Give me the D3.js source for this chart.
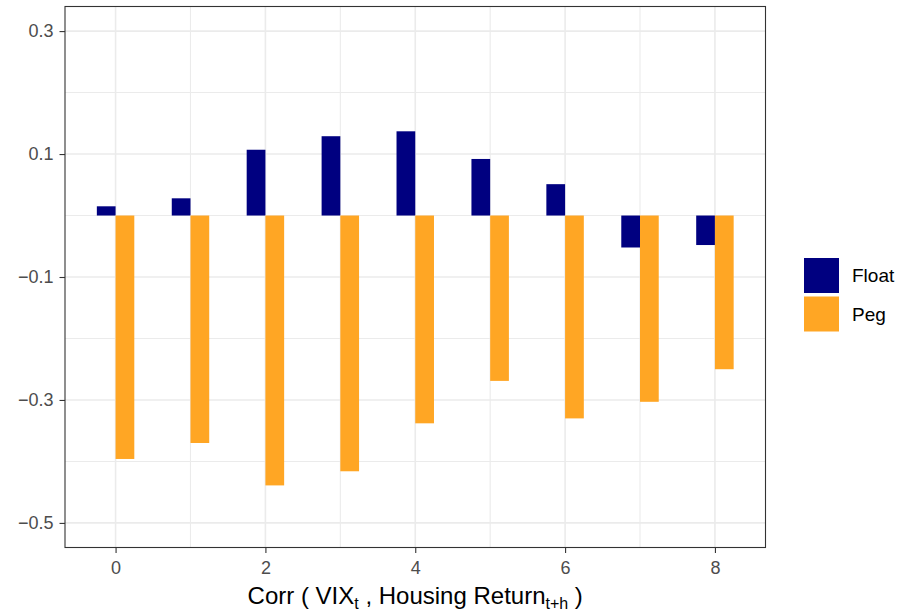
<!DOCTYPE html>
<html><head><meta charset="utf-8">
<script src="https://cdn.jsdelivr.net/npm/d3@7"></script>
<style>body{margin:0;background:#fff}</style>
</head><body>
<svg id="c" width="897" height="611"></svg>
<script>
const horizons = [0,1,2,3,4,5,6,7,8];
const floatVals = [0.015,0.028,0.107,0.129,0.137,0.092,0.051,-0.052,-0.048];
const pegVals = [-0.396,-0.370,-0.439,-0.416,-0.338,-0.269,-0.330,-0.303,-0.250];
const seriesNames = ["Float","Peg"];
const seriesColors = ["#000080","#FFA624"];
const yTicks = [0.3,0.1,-0.1,-0.3,-0.5];
const yMinor = [0.2,0,-0.2,-0.4];
const xTicks = [0,2,4,6,8];
const xMinor = [1,3,5,7];

const svg = d3.select("#c");
const L=65, R=765.5, T=6.5, B=547.5;
const x = d3.scaleLinear().domain([-0.675,8.675]).range([L,R]);
const y = d3.scaleLinear().domain([-0.54,0.34]).range([B,T]);
const font = "Liberation Sans, Arial, Helvetica, sans-serif";

const g = svg.append("g");
// grid
g.selectAll(".ym").data(yMinor).join("line").attr("x1",L).attr("x2",R)
  .attr("y1",d=>y(d)).attr("y2",d=>y(d)).attr("stroke","#ebebeb").attr("stroke-width",1.1);
g.selectAll(".xm").data(xMinor).join("line").attr("y1",T).attr("y2",B)
  .attr("x1",d=>x(d)).attr("x2",d=>x(d)).attr("stroke","#ebebeb").attr("stroke-width",1.1);
g.selectAll(".yM").data(yTicks).join("line").attr("x1",L).attr("x2",R)
  .attr("y1",d=>y(d)).attr("y2",d=>y(d)).attr("stroke","#ebebeb").attr("stroke-width",1.6);
g.selectAll(".xM").data(xTicks).join("line").attr("y1",T).attr("y2",B)
  .attr("x1",d=>x(d)).attr("x2",d=>x(d)).attr("stroke","#ebebeb").attr("stroke-width",1.6);

// bars
const bw = 0.25;
const data = [];
horizons.forEach((h,i)=>{
  data.push({h, v: floatVals[i], s:0});
  data.push({h, v: pegVals[i], s:1});
});
g.selectAll(".bar").data(data).join("rect")
  .attr("x",d=>x(d.h - bw + d.s*bw))
  .attr("width",d=>x(bw)-x(0))
  .attr("y",d=>y(Math.max(0,d.v)))
  .attr("height",d=>Math.abs(y(d.v)-y(0)))
  .attr("fill",d=>seriesColors[d.s]);

// panel border
g.append("rect").attr("x",L).attr("y",T).attr("width",R-L).attr("height",B-T)
  .attr("fill","none").attr("stroke","#333").attr("stroke-width",1.1);

// axes
const yAxis = d3.axisLeft(y).tickValues(yTicks).tickSize(5.5).tickPadding(6)
  .tickFormat(d=>d3.format(".1f")(d).replace("-","\u2212"));
const ya = svg.append("g").attr("transform",`translate(${L},0)`).call(yAxis);
const xAxis = d3.axisBottom(x).tickValues(xTicks).tickSize(5.5).tickPadding(8).tickFormat(d3.format("d"));
const xa = svg.append("g").attr("transform",`translate(0,${B})`).call(xAxis);
[ya,xa].forEach(a=>{
  a.attr("font-size",null).attr("font-family",null);
  a.select(".domain").remove();
  a.selectAll(".tick line").attr("stroke","#333").attr("stroke-width",1.1);
  a.selectAll(".tick text").attr("fill","#4d4d4d").style("font-family",font).style("font-size","18px");
});

// x title
const t = svg.append("text").attr("x",(L+R)/2).attr("y",604).attr("text-anchor","middle")
  .style("font-family",font).style("font-size","24px").attr("fill","#000");
t.append("tspan").text("Corr ( VIX");
t.append("tspan").text("t").style("font-size","16px").attr("dy",5);
t.append("tspan").text(" , Housing Return").attr("dy",-5);
t.append("tspan").text("t+h").style("font-size","16px").attr("dy",5);
t.append("tspan").text(" )").attr("dy",-5);

// legend
const lg = svg.append("g").attr("transform","translate(804,258)");
seriesNames.forEach((n,i)=>{
  lg.append("rect").attr("x",0).attr("y",i*38.5).attr("width",35).attr("height",35).attr("fill",seriesColors[i]);
  lg.append("text").attr("x",48).attr("y",i*38.5+17.5).attr("dy","0.35em")
    .style("font-family",font).style("font-size","19px").attr("fill","#000").text(n);
});
</script>
</body></html>
